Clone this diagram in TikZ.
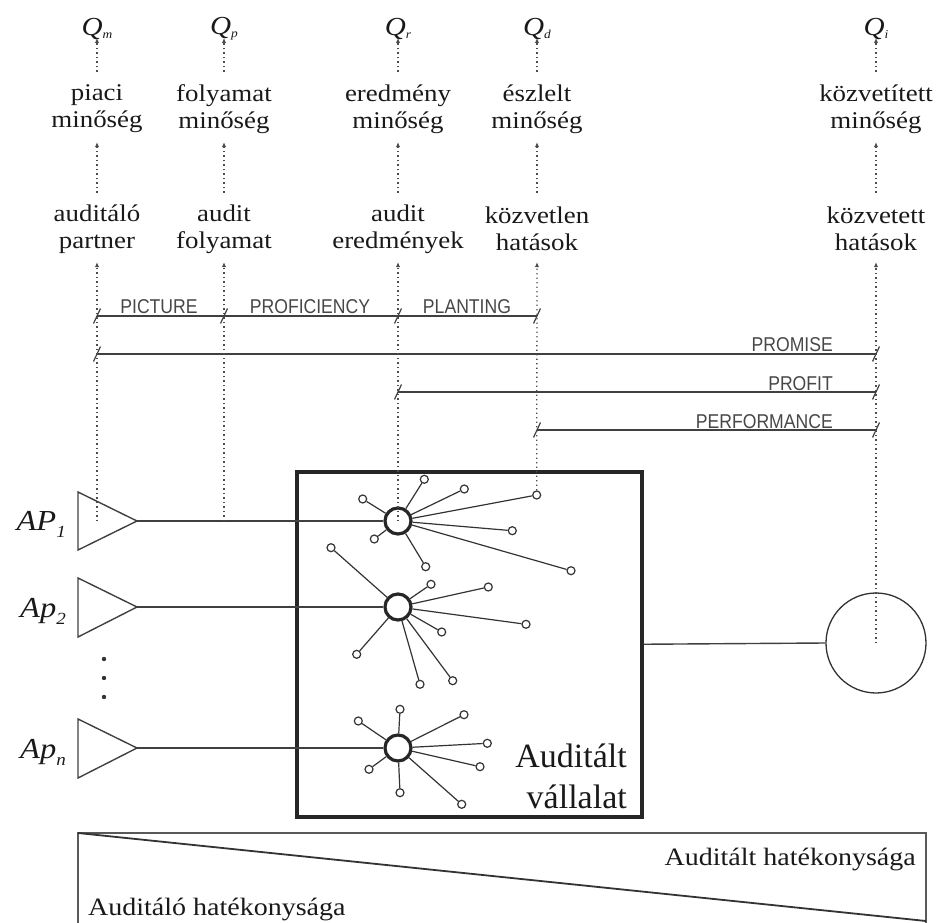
\documentclass[tikz,border=0pt]{standalone}
\usepackage{fontspec}
\setmainfont{Liberation Serif}
\newfontfamily\wf[FakeStretch=1.12]{Liberation Serif}
\newfontfamily\barfont[FakeStretch=0.88]{Liberation Sans}
\usetikzlibrary{arrows.meta}
\newcommand\qs[1]{\raisebox{-2.5pt}{\fontsize{12}{12}\selectfont #1}}
\newcommand\aps[1]{\raisebox{-7pt}{\fontsize{17}{17}\selectfont #1}}
\newcommand\tk[1]{\draw[tickst] ([shift={(-3.5,7.5)}]#1) -- ([shift={(3.5,-7.5)}]#1);}
\begin{document}
\begin{tikzpicture}[x=1pt,y=-1pt,
  lbl/.style={font=\wf\fontsize{24}{27}\selectfont, align=center, inner sep=0pt, minimum height=66pt, text=black!90},
  ql/.style={font=\wf\itshape\fontsize{26}{26}\selectfont, inner sep=0pt, text=black!90},
  dotarr/.style={draw=black!70, line width=1.3pt, dash pattern=on 1.3pt off 3.2pt, -{Latex[length=5pt,width=4.5pt]}},
  bar/.style={draw=black!75, line width=1.8pt},
  tickst/.style={draw=black!75, line width=1.2pt},
  barlbl/.style={font=\barfont\fontsize{20}{20}\selectfont, text=black!72, inner sep=0pt},
  tri/.style={draw=black!75, line width=1.4pt, line join=miter},
  feed/.style={draw=black!75, line width=1.4pt},
  hub/.style={circle, draw=black!85, line width=3.2pt, fill=white, minimum size=26pt, inner sep=0pt},
  leaf/.style={circle, draw=black!80, line width=1.2pt, fill=white, minimum size=8pt, inner sep=0pt},
  spoke/.style={draw=black!80, line width=1.2pt},
  company/.style={draw=black!85, line width=3.5pt, inner sep=0pt, minimum width=345pt, minimum height=345pt},
  bigc/.style={circle, draw=black!80, line width=1.3pt, minimum size=100pt, inner sep=0pt, fill=white},
  apl/.style={font=\wf\itshape\fontsize{29}{29}\selectfont, inner sep=0pt, text=black!90},
  eff/.style={font=\wf\fontsize{25}{25}\selectfont, inner sep=0pt, text=black!90},
  effbox/.style={draw=black!65, line width=1.5pt},
  diag/.style={draw=black!80, line width=1.8pt}
]
\useasboundingbox (0,0) rectangle (938,923);

% ---------- top labels ----------
\node[ql, anchor=south] (q1) at (97,40) {Q\qs{m}};
\node[ql, anchor=south] (q2) at (224,40) {Q\qs{p}};
\node[ql, anchor=south] (q3) at (398,40) {Q\qs{r}};
\node[ql, anchor=south] (q4) at (537,40) {Q\qs{d}};
\node[ql, anchor=south] (q5) at (876,40) {Q\qs{i}};

\node[lbl] (m1) at (97,109) {piaci\\minőség};
\node[lbl] (m2) at (224,109) {folyamat\\minőség};
\node[lbl] (m3) at (398,109) {eredmény\\minőség};
\node[lbl] (m4) at (537,109) {észlelt\\minőség};
\node[lbl] (m5) at (876,109) {közvetített\\minőség};

\node[lbl] (b1) at (97,229) {auditáló\\partner};
\node[lbl] (b2) at (224,229) {audit\\folyamat};
\node[lbl] (b3) at (398,229) {audit\\eredmények};
\node[lbl] (b4) at (537,229) {közvetlen\\hatások};
\node[lbl] (b5) at (876,229) {közvetett\\hatások};

\foreach \i in {1,...,5}{
  \draw[dotarr, shorten <=4pt, shorten >=-2pt] (m\i.north) -- (q\i.south);
  \draw[dotarr, shorten <=3pt] (b\i.north) -- (m\i.south);
}

% ---------- bars ----------
\coordinate (p1) at (97,316);  \coordinate (p2) at (224,316);
\coordinate (p3) at (398,316); \coordinate (p4) at (537,316);
\coordinate (r1) at (97,354);  \coordinate (r2) at (876,354);
\coordinate (s1) at (398,392); \coordinate (s2) at (876,392);
\coordinate (u1) at (537,430); \coordinate (u2) at (876,430);
\draw[bar] (p1) -- (p4);
\draw[bar] (r1) -- (r2);
\draw[bar] (s1) -- (s2);
\draw[bar] (u1) -- (u2);
\tk{p1}\tk{p2}\tk{p3}\tk{p4}
\tk{r1}\tk{r2}\tk{s1}\tk{s2}\tk{u1}\tk{u2}
\node[barlbl] (lpic) at (159,307) {PICTURE};
\node[barlbl] (lpro) at (310,307) {PROFICIENCY};
\node[barlbl] (lpla) at (467,307) {PLANTING};
\node[barlbl, anchor=east] (lprm) at (833,345) {PROMISE};
\node[barlbl, anchor=east] (lprf) at (833,384) {PROFIT};
\node[barlbl, anchor=east] (lper) at (833,422) {PERFORMANCE};

% ---------- company ----------
\node[company, anchor=north west] (co) at (295,470) {};
\node[font=\fontsize{34}{41}\selectfont, align=right, anchor=south east, inner sep=0pt, text=black!90] (cotext) at (627,809) {Auditált\\vállalat};

% hubs
\node[hub] (h1) at (398,521) {};
\node[hub] (h2) at (398,607) {};
\node[hub] (h3) at (398,748) {};

% partners
\coordinate (t1) at (137,521);
\coordinate (t2) at (137,607);
\coordinate (t3) at (137,748);
\draw[tri] (t1) -- (78,492) -- (78,550) -- cycle;
\draw[tri] (t2) -- (78,578) -- (78,637) -- cycle;
\draw[tri] (t3) -- (78,719) -- (78,778) -- cycle;
\draw[feed] (t1) -- (h1);
\draw[feed] (t2) -- (h2);
\draw[feed] (t3) -- (h3);
\node[apl, anchor=base east] (ap1) at (66,530) {AP\aps{1}};
\node[apl, anchor=base east] (ap2) at (66,617) {Ap\aps{2}};
\node[apl, anchor=base east] (ap3) at (66,758) {Ap\aps{n}};
\fill[black!80] (104,659) circle (2.2) (104,678) circle (2.2) (104,697) circle (2.2);

% spokes
\foreach \p [count=\i] in {(424.3,479.3),(464.3,489),(536.7,495),(512.3,530.7),(571,570.7),(425.7,566.7),(374.3,539),(362.7,499)}{
  \node[leaf] (a\i) at \p {};
  \draw[spoke] (h1) -- (a\i);
}
\foreach \p [count=\i] in {(331,547.7),(431,584.3),(488.3,587),(526,624.3),(441.7,632),(356.7,654.3),(420,684.3),(452.7,680.7)}{
  \node[leaf] (b\i x) at \p {};
  \draw[spoke] (h2) -- (b\i x);
}
\foreach \p [count=\i] in {(400,709.3),(464,714.7),(487.3,743.3),(480,766.7),(461.7,804.3),(400,792.7),(369,769.3),(358.3,721)}{
  \node[leaf] (c\i) at \p {};
  \draw[spoke] (h3) -- (c\i);
}

% big circle
\node[bigc] (bc) at (876,643) {};
\draw[feed] (co.east) -- (bc.west);

% dotted verticals
\coordinate (e1) at (97,521);
\coordinate (e2) at (224,521);
\draw[dotarr] (e1) -- (b1.south);
\draw[dotarr] (e2) -- (b2.south);
\draw[dotarr] (h1.center) -- (b3.south);
\draw[dotarr] (a3.north) -- (b4.south);
\draw[dotarr] (bc.center) -- (b5.south);

% efficiency box
\draw[effbox] (78,930) -- (78,833) -- (926,833) -- (926,930);
\draw[diag] (78,833) -- (926,921);
\node[eff, anchor=base east] (ef1) at (916,865) {Auditált hatékonysága};
\node[eff, anchor=base west] (ef2) at (88,915) {Auditáló hatékonysága};
\end{tikzpicture}
\end{document}
